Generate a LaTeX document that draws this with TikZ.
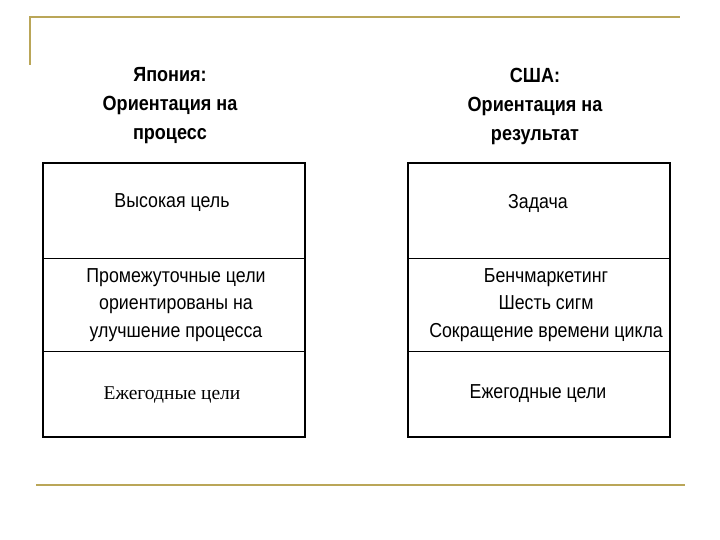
\documentclass[tikz,border=0pt]{standalone}
\usepackage{fontspec}
\setmainfont{Liberation Sans}
\newfontfamily\narrowru[FakeStretch=0.88]{Liberation Sans}
\newfontfamily\serifru{Liberation Serif}
\definecolor{gold}{RGB}{186,166,88}
\begin{document}
\begin{tikzpicture}[x=1pt,y=-1pt,
  head/.style={font=\narrowru\fontsize{20.5}{29}\selectfont\bfseries, align=center, anchor=center},
  cell/.style={font=\narrowru\fontsize{20.2}{27.5}\selectfont, align=center, anchor=center},
  frame/.style={draw=black, line width=1.2pt},
  sep/.style={draw=black, line width=0.8pt},
  deco/.style={draw=gold, line width=2pt}]
\useasboundingbox (0,0) rectangle (720,540);
% decoration
\coordinate (tl) at (30,17);
\coordinate (tr) at (680,17);
\coordinate (tv) at (30,65);
\coordinate (bl) at (36,485);
\coordinate (br) at (685,485);
\draw[deco] (tv) -- (tl) -- (tr);
\draw[deco] (bl) -- (br);
% headings
\node[head] (hj) at (170,106) {Япония:\\Ориентация на\\процесс};
\node[head] (hu) at (535,106) {США:\\Ориентация на\\результат};
% left box
\coordinate (L1) at (43,163); \coordinate (L2) at (305,437);
\coordinate (La) at (43,258); \coordinate (Lb) at (305,258);
\coordinate (Lc) at (43,351); \coordinate (Ld) at (305,351);
\draw[frame] (L1) rectangle (L2);
\draw[sep] (La) -- (Lb);
\draw[sep] (Lc) -- (Ld);
\node[cell] (j1) at (172,203) {Высокая цель};
\node[cell] (j2) at (176,305) {Промежуточные цели\\ориентированы на\\улучшение процесса};
\node[cell, font=\fontsize{19.5}{28}\selectfont\serifru] (j3) at (172,395) {Ежегодные цели};
% right box
\coordinate (R1) at (408,163); \coordinate (R2) at (670,437);
\coordinate (Ra) at (408,258); \coordinate (Rb) at (670,258);
\coordinate (Rc) at (408,351); \coordinate (Rd) at (670,351);
\draw[frame] (R1) rectangle (R2);
\draw[sep] (Ra) -- (Rb);
\draw[sep] (Rc) -- (Rd);
\node[cell] (u1) at (538,203) {Задача};
\node[cell] (u2) at (546,305) {Бенчмаркетинг\\Шесть сигм\\Сокращение времени цикла};
\node[cell] (u3) at (538,394) {Ежегодные цели};
\end{tikzpicture}
\end{document}
